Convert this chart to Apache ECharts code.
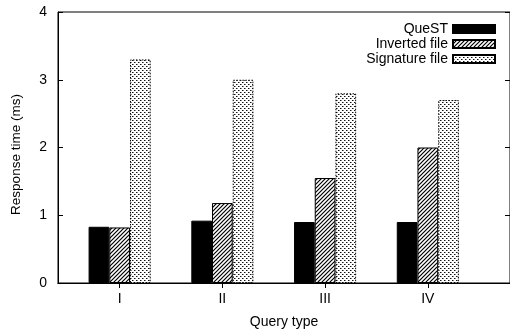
<!DOCTYPE html>
<html>
<head>
<meta charset="utf-8">
<script src="https://cdn.jsdelivr.net/npm/echarts@6/dist/echarts.min.js"></script>
<style>
html,body{margin:0;padding:0;background:#fff;}
#c{width:510px;height:334px;}
</style>
</head>
<body>
<div id="c"></div>
<script>
var categories = ['I', 'II', 'III', 'IV'];
var seriesNames = ['QueST', 'Inverted file', 'Signature file'];
var questValues = [0.83, 0.92, 0.90, 0.90];
var invertedValues = [0.82, 1.18, 1.55, 2.0];
var signatureValues = [3.3, 3.0, 2.8, 2.7];
var yTicks = [0, 1, 2, 3, 4];

function hatchPattern() {
  var c = document.createElement('canvas');
  c.width = 4; c.height = 4;
  var g = c.getContext('2d');
  g.fillStyle = '#fff'; g.fillRect(0, 0, 4, 4);
  g.strokeStyle = '#000'; g.lineWidth = 1.2;
  g.beginPath();
  g.moveTo(-1, 5); g.lineTo(5, -1);
  g.moveTo(-3, 3); g.lineTo(3, -3);
  g.moveTo(1, 7); g.lineTo(7, 1);
  g.stroke();
  return c;
}
function dotPattern() {
  var c = document.createElement('canvas');
  c.width = 4; c.height = 4;
  var g = c.getContext('2d');
  g.fillStyle = '#fff'; g.fillRect(0, 0, 4, 4);
  g.fillStyle = '#111';
  g.fillRect(0, 0, 1, 1);
  g.fillRect(2, 2, 1, 1);
  g.fillStyle = '#888';
  g.fillRect(1, 0, 1, 1);
  g.fillRect(3, 2, 1, 1);
  return c;
}

function pairs(vals) {
  return vals.map(function (v, i) { return [i + 1, v]; });
}
var tickPos = categories.map(function (c, i) { return i + 1; });
var font = 'Liberation Sans, Arial, sans-serif';

var chart = echarts.init(document.getElementById('c'), null, {renderer: 'canvas'});
chart.setOption({
  animation: false,
  backgroundColor: '#fff',
  textStyle: {fontFamily: font, color: '#000'},
  grid: {left: 58, top: 12, width: 455, height: 272.5, show: true, borderColor: '#000', borderWidth: 1, containLabel: false},
  legend: {
    orient: 'vertical', align: 'right', right: 9, top: 16.5,
    itemWidth: 42, itemHeight: 8, itemGap: 0,
    icon: 'rect',
    textStyle: {fontFamily: font, fontSize: 14, color: '#000', lineHeight: 15},
    data: seriesNames
  },
  xAxis: [{
    type: 'value', min: 0.4, max: 4.8,
    name: 'Query type', nameLocation: 'middle', nameGap: 32,
    nameTextStyle: {fontFamily: font, fontSize: 14, color: '#000'},
    axisLine: {show: true, lineStyle: {color: '#000', width: 1}},
    axisTick: {show: true, inside: true, length: 5, customValues: tickPos, lineStyle: {color: '#000'}},
    axisLabel: {show: true, customValues: tickPos, margin: 9, fontSize: 14, color: '#000', fontFamily: font,
      formatter: function (v) { return categories[Math.round(v) - 1] || ''; }},
    splitLine: {show: false}
  }, {
    type: 'value', min: 0.4, max: 4.8, position: 'top',
    axisLine: {show: true, lineStyle: {color: '#000', width: 1}},
    axisTick: {show: true, inside: true, length: 5, customValues: tickPos, lineStyle: {color: '#000'}},
    axisLabel: {show: false}, splitLine: {show: false}
  }],
  yAxis: [{
    type: 'value', min: 0, max: 4, interval: 1,
    name: 'Response time (ms)', nameLocation: 'middle', nameGap: 35, nameRotate: 90,
    nameTextStyle: {fontFamily: font, fontSize: 13.5, color: '#000', padding: [0, 14, 0, 0]},
    axisLine: {show: true, lineStyle: {color: '#000', width: 1}},
    axisTick: {show: true, inside: true, length: 5, lineStyle: {color: '#000'}},
    axisLabel: {margin: 11, fontSize: 14, color: '#000', fontFamily: font,
      formatter: function (v) { return String(v); }},
    splitLine: {show: false}
  }, {
    type: 'value', min: 0, max: 4, interval: 1, position: 'right',
    axisLine: {show: true, lineStyle: {color: '#000', width: 1}},
    axisTick: {show: true, inside: true, length: 5, lineStyle: {color: '#000'}},
    axisLabel: {show: false}, splitLine: {show: false}
  }],
  series: [{
    name: seriesNames[0], type: 'bar', xAxisIndex: 0, yAxisIndex: 0,
    barWidth: 20.7, barGap: '0%',
    itemStyle: {color: '#000', borderColor: '#000', borderWidth: 1},
    data: pairs(questValues)
  }, {
    name: seriesNames[1], type: 'bar', xAxisIndex: 0, yAxisIndex: 0,
    barWidth: 20.7, barGap: '0%',
    itemStyle: {color: {image: hatchPattern(), repeat: 'repeat'}, borderColor: '#000', borderWidth: 1},
    data: pairs(invertedValues)
  }, {
    name: seriesNames[2], type: 'bar', xAxisIndex: 0, yAxisIndex: 0,
    barWidth: 20.7, barGap: '0%',
    itemStyle: {color: {image: dotPattern(), repeat: 'repeat'}, borderColor: '#000', borderWidth: 1, borderType: [1.5, 1.5]},
    data: pairs(signatureValues)
  }]
});
</script>
</body>
</html>
